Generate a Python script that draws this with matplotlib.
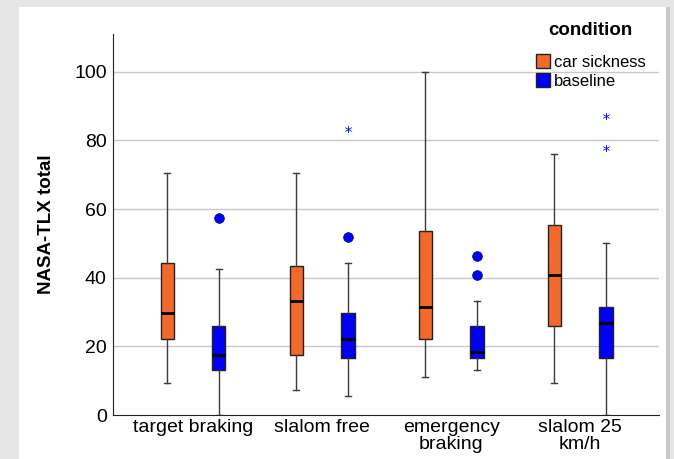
import matplotlib
matplotlib.use("Agg")
import matplotlib.pyplot as plt
from matplotlib.patches import Patch, Rectangle

plt.rcParams['font.family'] = ['Liberation Sans', 'DejaVu Sans']

# values
categories = ['target braking', 'slalom free', 'emergency\nbraking', 'slalom 25\nkm/h']
groups = ['car sickness', 'baseline']

sick_whislo = [9.3, 7.4, 11.1, 9.3]
sick_q1 = [22.2, 17.5, 22.2, 25.9]
sick_med = [29.6, 33.3, 31.4, 40.7]
sick_q3 = [44.3, 43.4, 53.6, 55.4]
sick_whishi = [70.4, 70.4, 100.0, 75.9]

base_whislo = [0.0, 5.6, 13.0, 0.0]
base_q1 = [13.0, 16.7, 16.7, 16.7]
base_med = [17.6, 22.2, 18.5, 26.9]
base_q3 = [25.9, 29.6, 25.9, 31.4]
base_whishi = [42.6, 44.3, 33.3, 50.0]
base_outliers = [[57.4], [51.8], [46.2, 40.7], []]
base_extremes = [[], [83.3], [], [87.0, 77.8]]

orange = '#F1692D'
blue = '#0000F5'

fig = plt.figure(figsize=(6.74, 4.59), dpi=100)
fig.patch.set_facecolor('#e6e6e6')
# white panel with slight shadow on the right
fig.patches.append(Rectangle((666 / 674, 0), 4 / 674, 1 - 7 / 459, transform=fig.transFigure,
                             facecolor='#c9c9c9', edgecolor='none', zorder=-2))
fig.patches.append(Rectangle((19 / 674, 0), 647 / 674, 1 - 7 / 459, transform=fig.transFigure,
                             facecolor='white', edgecolor='none', zorder=-1))

ax = fig.add_axes([113 / 674, 44 / 459, 546 / 674, 381 / 459])
ax.set_facecolor('none')

offset = 0.2
width = 0.103


def make_stats(lo, q1, med, q3, hi, fl):
    return [dict(whislo=lo[i], q1=q1[i], med=med[i], q3=q3[i], whishi=hi[i], fliers=fl[i])
            for i in range(len(lo))]


sick_stats = make_stats(sick_whislo, sick_q1, sick_med, sick_q3, sick_whishi, [[]] * 4)
base_stats = make_stats(base_whislo, base_q1, base_med, base_q3, base_whishi, base_outliers)

for stats, shift, color in [(sick_stats, -offset, orange), (base_stats, offset, blue)]:
    ax.bxp(stats, positions=[i + shift for i in range(len(categories))], widths=width,
           patch_artist=True, capwidths=0.047, manage_ticks=False,
           boxprops=dict(facecolor=color, edgecolor='#222222', linewidth=1.0),
           medianprops=dict(color='black', linewidth=2.0),
           whiskerprops=dict(color='#3a3a3a', linewidth=1.0),
           capprops=dict(color='#3a3a3a', linewidth=1.0),
           flierprops=dict(marker='o', markerfacecolor=blue, markeredgecolor='#000080',
                           markersize=7, markeredgewidth=0.5))

for i, vals in enumerate(base_extremes):
    if vals:
        ax.scatter([i + offset] * len(vals), vals, marker='$*$', color=blue, s=26, linewidths=0)

ax.set_xlim(-0.62, 3.61)
ax.set_ylim(0, 111)
ax.set_yticks([0, 20, 40, 60, 80, 100])
ax.set_xticks(range(len(categories)))
ax.set_xticklabels(categories, fontsize=14, linespacing=1.0)
ax.tick_params(axis='y', length=0, pad=4.5, labelsize=14)
ax.tick_params(axis='x', length=0, pad=3)
ax.yaxis.grid(True, color='#c8c8c8', linewidth=1.0)
ax.set_axisbelow(True)
for g in ax.get_ygridlines()[:1]:
    g.set_visible(False)
for s in ['top', 'right']:
    ax.spines[s].set_visible(False)
ax.spines['left'].set_color('#222222')
ax.spines['bottom'].set_color('#222222')
ax.set_ylabel('NASA-TLX total', fontsize=13.5, fontweight='bold', labelpad=14)

handles = [Patch(facecolor=orange, edgecolor='#222222'), Patch(facecolor=blue, edgecolor='#222222')]
leg = fig.legend(handles, groups, title='condition', loc='upper left',
                 bbox_to_anchor=(536 / 674, 1 - 22 / 459), frameon=False, fontsize=12,
                 title_fontproperties={'weight': 'bold', 'size': 13.5},
                 handlelength=0.85, handleheight=0.9, handletextpad=0.2,
                 labelspacing=0.2, borderpad=0, borderaxespad=0)
leg._legend_box.sep = 11
leg._legend_box.align = 'center'

fig.savefig('out.png', dpi=100, facecolor=fig.get_facecolor())
